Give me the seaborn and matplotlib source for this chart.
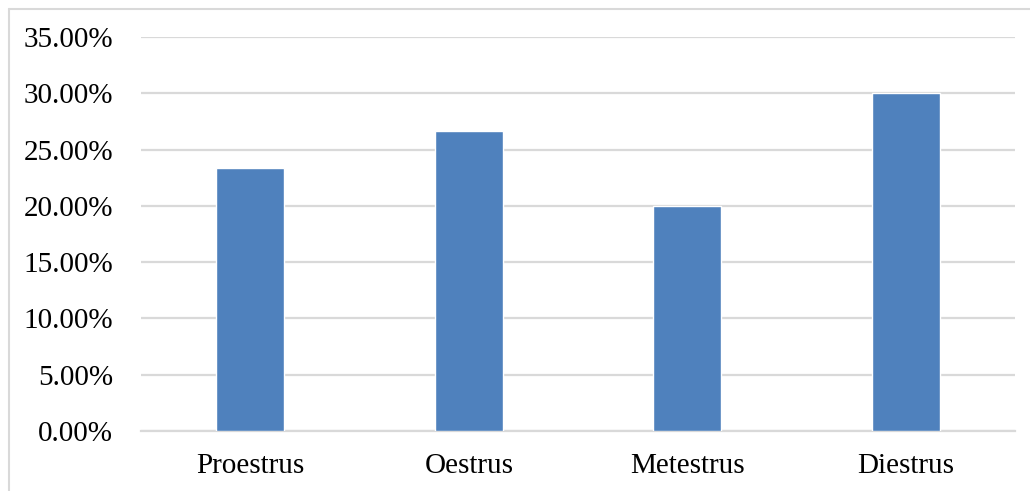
import matplotlib
matplotlib.use("Agg")
import matplotlib.pyplot as plt
import seaborn as sns
import pandas as pd
from matplotlib.ticker import PercentFormatter, MultipleLocator
from matplotlib.lines import Line2D

# Share of each oestrous cycle phase
phases = ["Proestrus", "Oestrus", "Metestrus", "Diestrus"]
shares = [0.2333, 0.2667, 0.20, 0.30]

df = pd.DataFrame({"phase": phases, "share": shares})

sns.set_theme(style="white")
plt.rcParams["font.family"] = ["Liberation Serif", "DejaVu Serif"]

W, H = 1030, 491
fig = plt.figure(figsize=(W / 100, H / 100), dpi=100)
ax = fig.add_axes([141 / W, 1 - 431 / H, (1015 - 141) / W, (431 - 37) / H])

sns.barplot(data=df, x="phase", y="share", color="#4F81BD", saturation=1,
            width=0.31, ax=ax, zorder=3)

ax.set_ylim(0, 0.35)
ax.yaxis.set_major_locator(MultipleLocator(0.05))
ax.yaxis.set_major_formatter(PercentFormatter(1.0, decimals=2))
ax.set_xlim(-0.5, 3.5)
ax.grid(axis="y", color="#D9D9D9", linewidth=1.6, zorder=0)
ax.set_axisbelow(True)
for side in ["top", "right", "left"]:
    ax.spines[side].set_visible(False)
ax.spines["bottom"].set_color("#D9D9D9")
ax.spines["bottom"].set_linewidth(1.6)
ax.set_xlabel("")
ax.set_ylabel("")
ax.tick_params(axis="both", length=0, labelsize=21, colors="black")
ax.tick_params(axis="y", pad=20)
ax.tick_params(axis="x", pad=16)

# Chart area frame along the top and left edges
fig.add_artist(Line2D([8.5 / W, 8.5 / W], [0, 1 - 8.5 / H], transform=fig.transFigure,
                      color="#D9D9D9", linewidth=1.5))
fig.add_artist(Line2D([8.5 / W, 1], [1 - 8.5 / H, 1 - 8.5 / H], transform=fig.transFigure,
                      color="#D9D9D9", linewidth=1.5))

fig.savefig("out.png", dpi=100)
